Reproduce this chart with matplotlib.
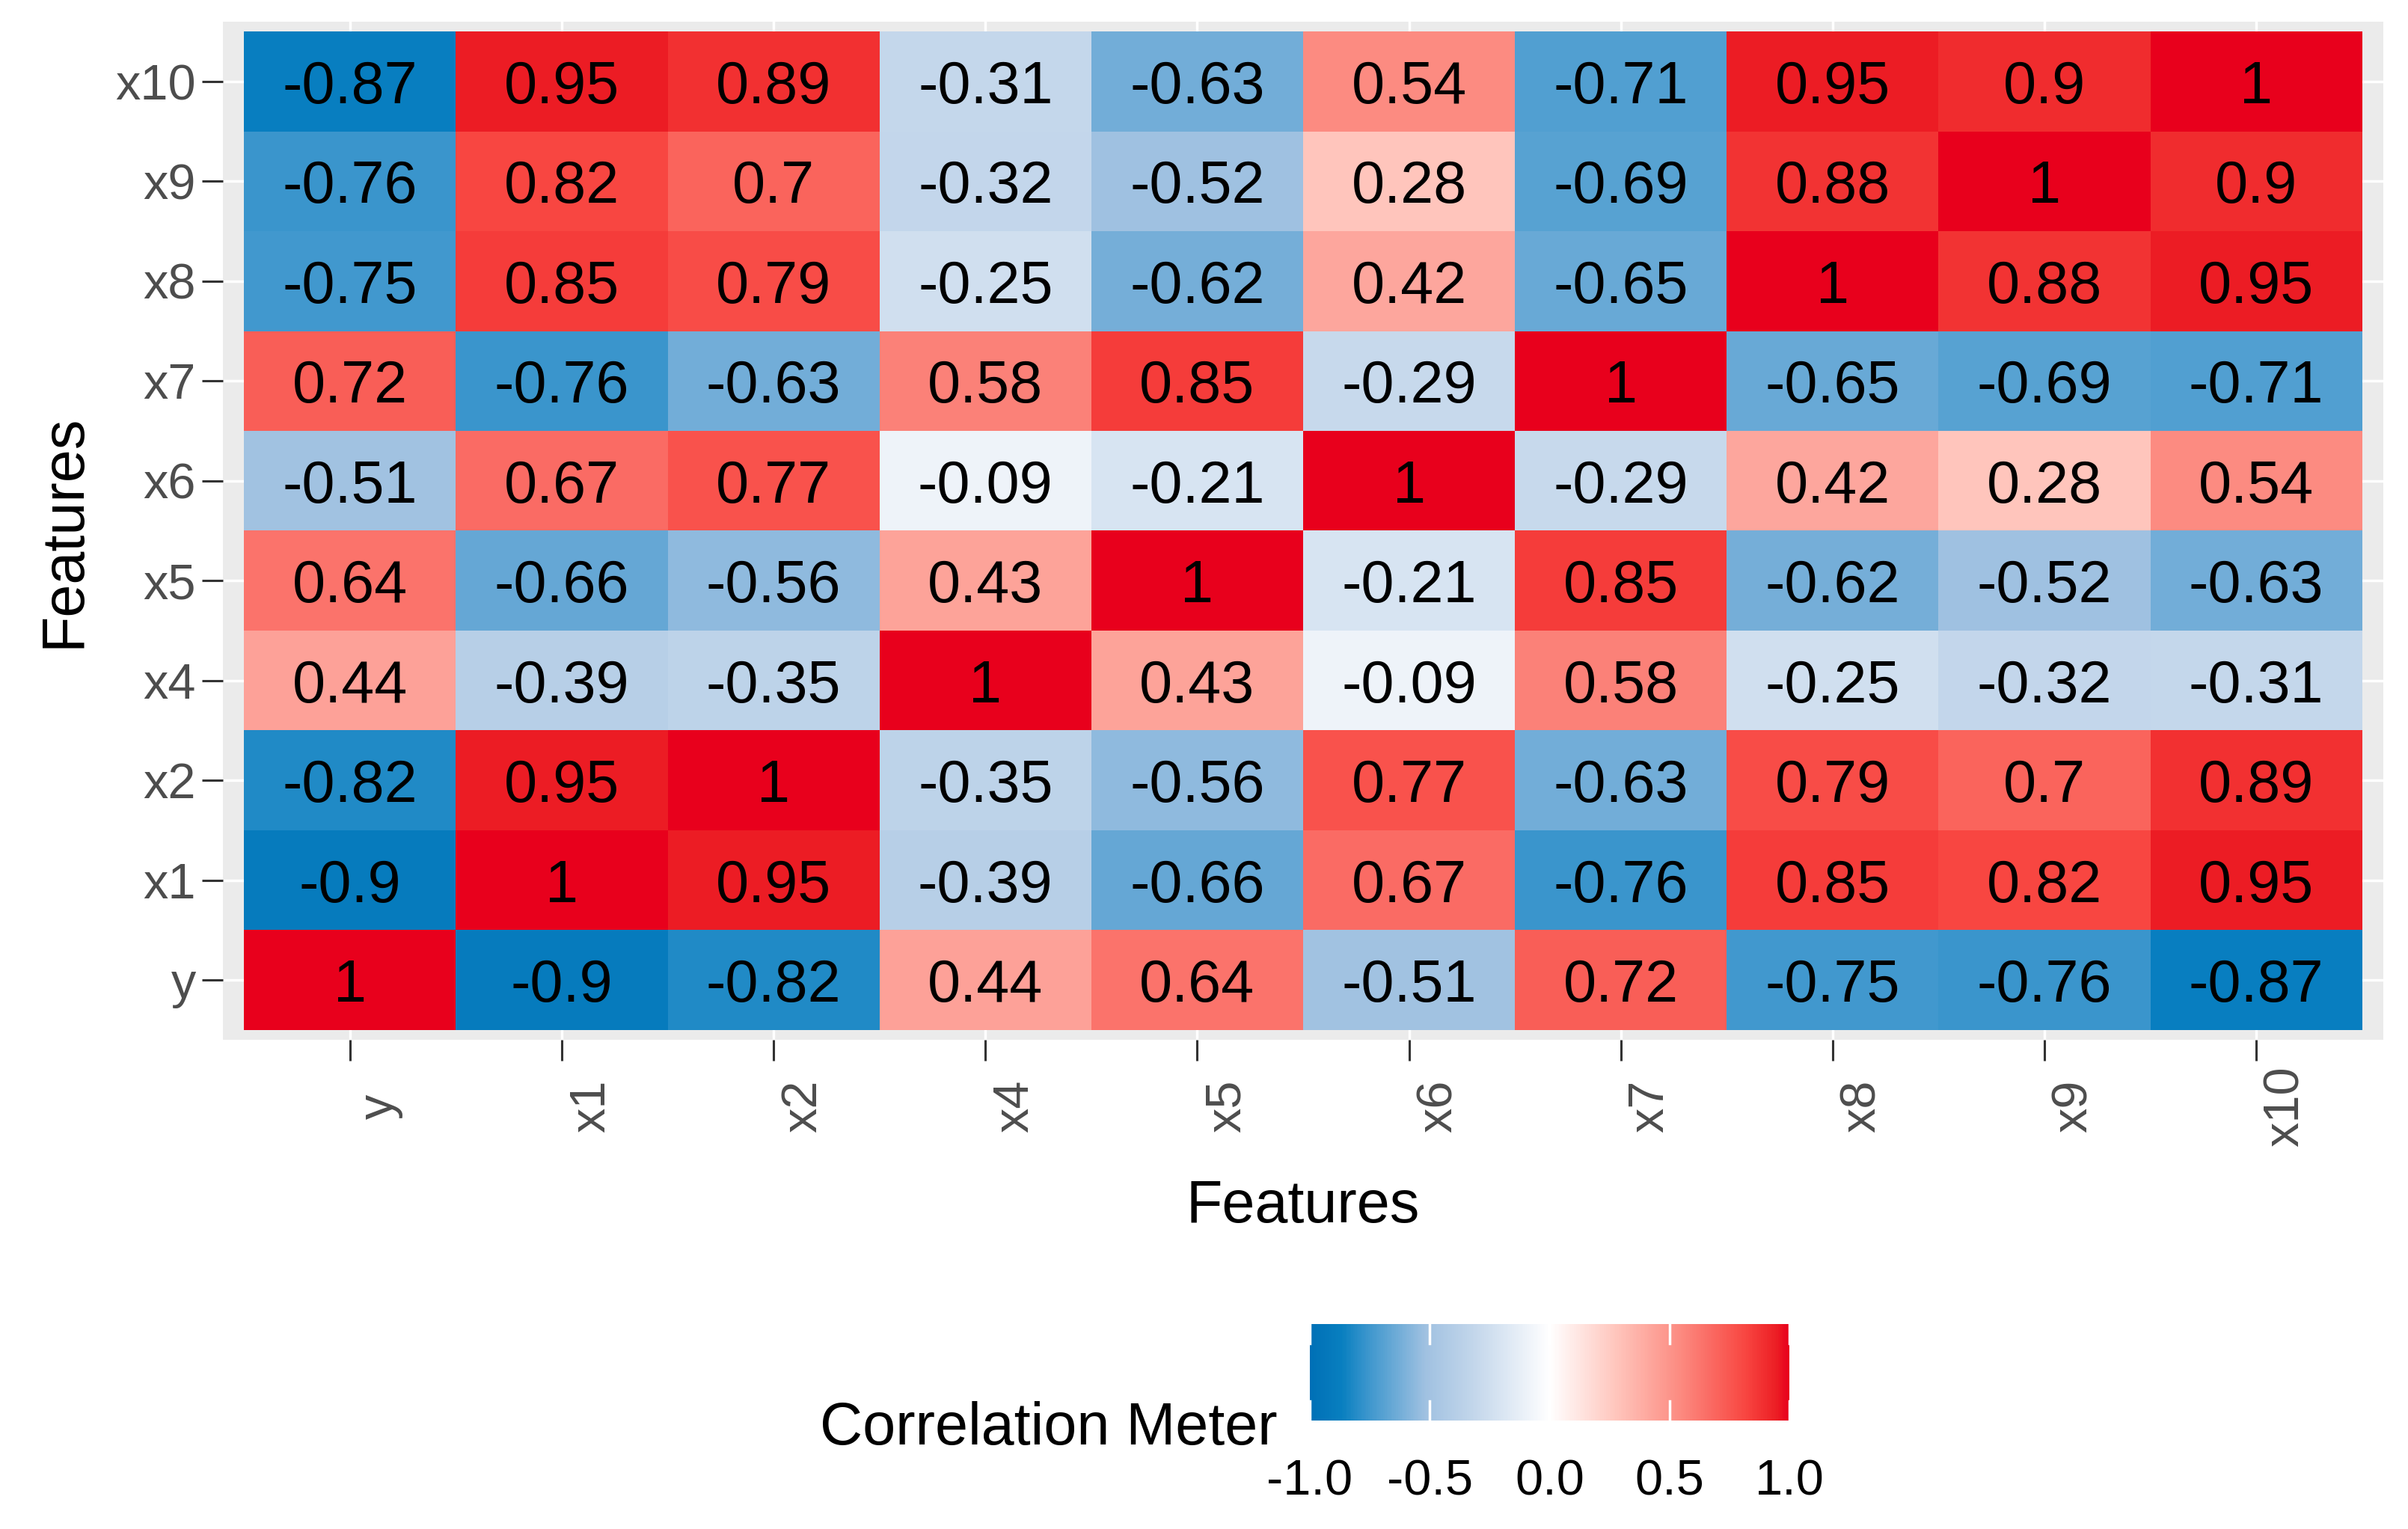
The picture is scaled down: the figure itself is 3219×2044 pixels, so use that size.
import numpy as np
import matplotlib
matplotlib.use("Agg")
import matplotlib.pyplot as plt
from matplotlib.colors import LinearSegmentedColormap
from matplotlib.transforms import ScaledTranslation

plt.rcParams['font.family'] = ['Liberation Sans', 'DejaVu Sans']

features = ["y", "x1", "x2", "x4", "x5", "x6", "x7", "x8", "x9", "x10"]

# correlation rows, in the same order as features (row "y" first, drawn at the bottom)
corr_y   = [1, -0.9, -0.82, 0.44, 0.64, -0.51, 0.72, -0.75, -0.76, -0.87]
corr_x1  = [-0.9, 1, 0.95, -0.39, -0.66, 0.67, -0.76, 0.85, 0.82, 0.95]
corr_x2  = [-0.82, 0.95, 1, -0.35, -0.56, 0.77, -0.63, 0.79, 0.7, 0.89]
corr_x4  = [0.44, -0.39, -0.35, 1, 0.43, -0.09, 0.58, -0.25, -0.32, -0.31]
corr_x5  = [0.64, -0.66, -0.56, 0.43, 1, -0.21, 0.85, -0.62, -0.52, -0.63]
corr_x6  = [-0.51, 0.67, 0.77, -0.09, -0.21, 1, -0.29, 0.42, 0.28, 0.54]
corr_x7  = [0.72, -0.76, -0.63, 0.58, 0.85, -0.29, 1, -0.65, -0.69, -0.71]
corr_x8  = [-0.75, 0.85, 0.79, -0.25, -0.62, 0.42, -0.65, 1, 0.88, 0.95]
corr_x9  = [-0.76, 0.82, 0.7, -0.32, -0.52, 0.28, -0.69, 0.88, 1, 0.9]
corr_x10 = [-0.87, 0.95, 0.89, -0.31, -0.63, 0.54, -0.71, 0.95, 0.9, 1]

legend_ticks = [-1.0, -0.5, 0.0, 0.5, 1.0]

corr = np.array([corr_y, corr_x1, corr_x2, corr_x4, corr_x5,
                 corr_x6, corr_x7, corr_x8, corr_x9, corr_x10])

# blue - white - red palette, anchors picked off the reference tiles
stops = [
    (0.000, (0, 112, 182)),
    (0.065, (8, 127, 192)),
    (0.120, (60, 150, 205)),
    (0.240, (160, 193, 225)),
    (0.345, (196, 215, 235)),
    (0.500, (255, 255, 255)),
    (0.640, (255, 197, 188)),
    (0.770, (252, 140, 130)),
    (0.910, (248, 70, 65)),
    (0.975, (236, 30, 36)),
    (1.000, (232, 0, 28)),
]
cmap = LinearSegmentedColormap.from_list(
    "corr", [(p, tuple(v / 255 for v in c)) for p, c in stops])

W, H = 3219, 2044
fig = plt.figure(figsize=(W / 100, H / 100), dpi=100)
ax = fig.add_axes([298 / W, 1 - 1390 / H, (3186 - 298) / W, (1390 - 29) / H])
ax.set_facecolor("#EBEBEB")

n = len(features)
im = ax.pcolormesh(np.arange(n + 1) - 0.5, np.arange(n + 1) - 0.5, corr,
                   cmap=cmap, vmin=-1, vmax=1, zorder=2)
for i in range(n):
    for j in range(n):
        ax.text(j, i, f"{corr[i, j]:g}", ha="center", va="center_baseline",
                fontsize=57, color="black", zorder=3)

ax.set_xlim(-0.6, n - 0.4)
ax.set_ylim(-0.6, n - 0.4)
ax.set_xticks(range(n))
ax.set_yticks(range(n))
ax.grid(True, color="white", linewidth=2.5, zorder=1)
ax.set_axisbelow(True)
for s in ax.spines.values():
    s.set_visible(False)

ax.set_yticklabels(features, fontsize=48, color="#4D4D4D")
ax.set_xticklabels(features, fontsize=48, color="#4D4D4D", rotation=90,
                   ha="left", va="center")
ax.tick_params(axis="both", length=20, width=2.2, color="#333333")
ax.tick_params(axis="y", pad=6)
ax.tick_params(axis="x", pad=44)
shift = ScaledTranslation(0.09, 0, fig.dpi_scale_trans)
for lab in ax.get_xticklabels():
    lab.set_transform(lab.get_transform() + shift)

fig.text(1742 / W, 1 - 1613 / H, "Features", ha="center", va="center", fontsize=57)
fig.text(86 / W, 1 - 710 / H, "Features", ha="center", va="center",
         fontsize=57, rotation=90)

# colour bar legend
cax = fig.add_axes([1751 / W, 1 - 1899 / H, (2392 - 1751) / W, (1899 - 1770) / H])
cb = fig.colorbar(im, cax=cax, orientation="horizontal")
cb.outline.set_visible(False)
cb.set_ticks(legend_ticks)
cb.set_ticklabels([f"{v:.1f}" for v in legend_ticks])
cax.tick_params(length=0, labelsize=48, pad=37, colors="black")
for v in legend_ticks:
    cax.plot([v, v], [0, 0.2], color="white", lw=2.5, transform=cax.get_xaxis_transform(), clip_on=False)
    cax.plot([v, v], [0.8, 1], color="white", lw=2.5, transform=cax.get_xaxis_transform(), clip_on=False)
fig.text(1708 / W, 1 - 1910 / H, "Correlation Meter", ha="right", va="center", fontsize=57)

fig.savefig("out.png", dpi=100)
